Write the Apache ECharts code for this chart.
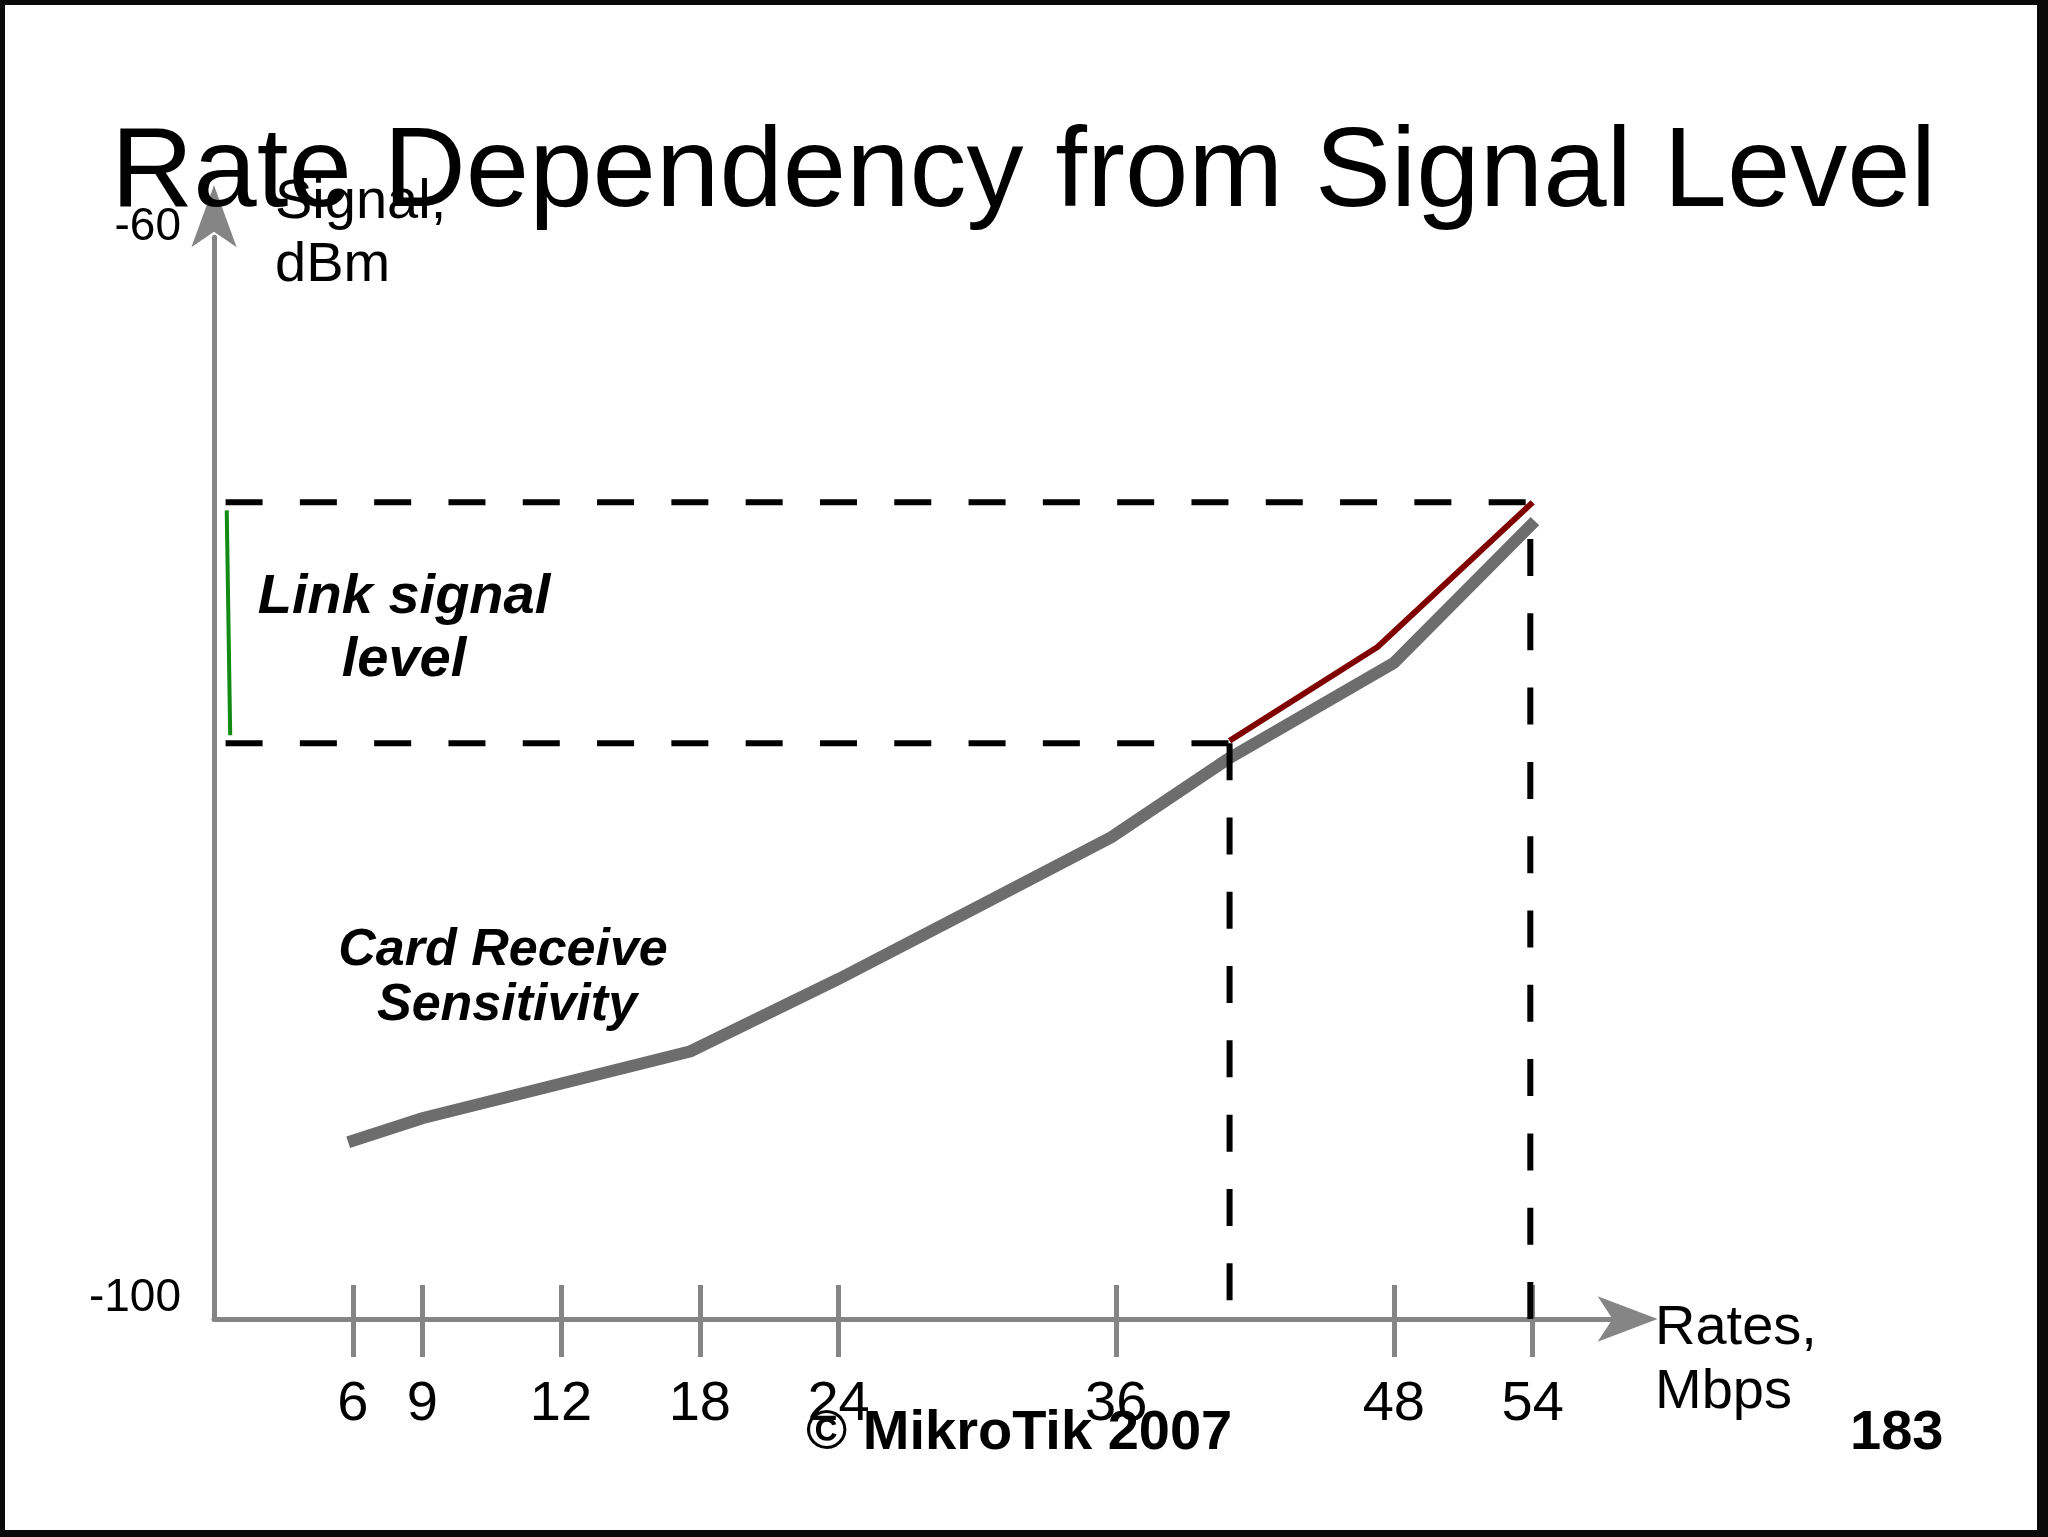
<!DOCTYPE html>
<html>
<head>
<meta charset="utf-8">
<script src="https://cdn.jsdelivr.net/npm/echarts@6/dist/echarts.min.js"></script>
<style>
html,body{margin:0;padding:0;background:#fff;}
#wrap{position:relative;width:2048px;height:1537px;}
#chart{position:absolute;left:0;top:0;width:2048px;height:1537px;}
#frame{position:absolute;left:0;top:0;width:2048px;height:1537px;box-sizing:border-box;border-style:solid;border-color:#0a0a0a;border-width:5px 11px 7px 5px;pointer-events:none;}
</style>
</head>
<body>
<div id="wrap"><div id="chart"></div><div id="frame"></div></div>
<script>
// ---- data ----
const rateLabels = ['6', '9', '12', '18', '24', '36', '48', '54'];       // Mbps tick labels
const ratePos    = [6, 9, 15, 21, 27, 39, 51, 57];                       // where each rate sits on the schematic axis
const yTickLabels = [-100, -60];                                          // dBm
const sensPos  = [5.8, 9.0, 20.6, 27.0, 32.8, 38.8, 43.8, 51.0, 57.1];   // card receive sensitivity curve (axis position)
const sensDbm  = [-93.4, -92.5, -90.0, -87.3, -84.7, -82.0, -79.1, -75.5, -70.2];
const linkPos  = [43.9, 50.3, 57.0];                                      // link signal segment
const linkDbm  = [-78.4, -74.9, -69.5];
const levelHigh = -69.5;          // upper link level (dBm)
const levelLow  = -78.5;          // lower link level (dBm)
const guideStartPos = 0.5;        // dashed guides start near the y axis
const lowRatePos  = 43.9;         // rate position reached at low level
const highRatePos = 56.9;         // rate position reached at high level
const lowGuideBottom  = -99.3;
const highGuideBottom = -100;
const bracketPos = [0.55, 0.7];   // green bracket
const bracketDbm = [-69.8, -78.2];

const FONT = "'Liberation Sans', Arial, Helvetica, sans-serif";
const AXIS_GREY = '#858585';

function pairs(xs, ys) { return xs.map((x, i) => [x, ys[i]]); }

const dashStyle = { color: '#000', width: 6, type: [37, 37.3], cap: 'butt' };

const chart = echarts.init(document.getElementById('chart'), null, { renderer: 'canvas' });

const option = {
  backgroundColor: '#fff',
  animation: false,
  grid: { left: 214, right: 434.4, top: 237.3, bottom: 218, containLabel: false },
  xAxis: [
    {
      type: 'value', min: 0, max: 60.5, position: 'bottom',
      splitLine: { show: false },
      axisLine: { show: true, onZero: false, symbol: ['none', 'arrow'], symbolSize: [34, 60], symbolOffset: [0, 44],
                  lineStyle: { color: AXIS_GREY, width: 5 } },
      axisTick: { show: true, inside: false, length: 38, customValues: ratePos, lineStyle: { color: AXIS_GREY, width: 5 } },
      axisLabel: { show: true, customValues: ratePos, margin: 58, fontSize: 56, color: '#000', fontFamily: FONT,
                   formatter: v => rateLabels[ratePos.indexOf(v)] }
    },
    {
      type: 'value', min: 0, max: 60.5, position: 'bottom',
      splitLine: { show: false },
      axisLine: { show: false, onZero: false },
      axisTick: { show: true, inside: true, length: 34, customValues: ratePos, lineStyle: { color: AXIS_GREY, width: 5 } },
      axisLabel: { show: false }
    }
  ],
  yAxis: {
    type: 'value', min: -100, max: -59.6,
    splitLine: { show: false },
    axisLine: { show: true, onZero: false, symbol: ['none', 'arrow'], symbolSize: [34, 62], symbolOffset: [0, 52],
                lineStyle: { color: AXIS_GREY, width: 5 } },
    axisTick: { show: false },
    axisLabel: { show: true, customValues: yTickLabels, margin: 33, fontSize: 46, lineHeight: 42, color: '#000', fontFamily: FONT,
                 verticalAlign: 'bottom' }
  },
  series: [
    { type: 'line', name: 'sensitivity', data: pairs(sensPos, sensDbm), symbol: 'none', clip: false, z: 2,
      lineStyle: { color: '#6d6d6d', width: 12, cap: 'butt', join: 'miter' } },
    { type: 'line', name: 'guideHigh', data: [[guideStartPos, levelHigh], [highRatePos + 0.1, levelHigh]], symbol: 'none', clip: false, z: 3, lineStyle: dashStyle },
    { type: 'line', name: 'guideLow', data: [[guideStartPos, levelLow], [lowRatePos, levelLow]], symbol: 'none', clip: false, z: 3, lineStyle: dashStyle },
    { type: 'line', name: 'dropLow', data: [[lowRatePos, lowGuideBottom], [lowRatePos, levelLow]], symbol: 'none', clip: false, z: 3, lineStyle: dashStyle },
    { type: 'line', name: 'dropHigh', data: [[highRatePos, highGuideBottom], [highRatePos, levelHigh]], symbol: 'none', clip: false, z: 3, lineStyle: dashStyle },
    { type: 'line', name: 'bracket', data: pairs(bracketPos, bracketDbm), symbol: 'none', clip: false, z: 3,
      lineStyle: { color: '#138a13', width: 4 } },
    { type: 'line', name: 'link', data: pairs(linkPos, linkDbm), symbol: 'none', clip: false, z: 4,
      lineStyle: { color: '#800000', width: 6, cap: 'butt', join: 'miter' } }
  ],
  graphic: [
    { type: 'text', x: 111, y: 175, z: 10, style: { text: 'Rate Dependency from Signal Level', font: '114px ' + FONT, fill: '#000', verticalAlign: 'middle', align: 'left' } },
    { type: 'text', x: 275, y: 203, z: 10, style: { text: 'Signal,', font: '56px ' + FONT, fill: '#000', verticalAlign: 'middle' } },
    { type: 'text', x: 275, y: 266, z: 10, style: { text: 'dBm', font: '56px ' + FONT, fill: '#000', verticalAlign: 'middle' } },
    { type: 'text', x: 1655, y: 1329, z: 10, style: { text: 'Rates,', font: '56px ' + FONT, fill: '#000', verticalAlign: 'middle' } },
    { type: 'text', x: 1655, y: 1393, z: 10, style: { text: 'Mbps', font: '56px ' + FONT, fill: '#000', verticalAlign: 'middle' } },
    { type: 'text', x: 404, y: 598, z: 10, style: { text: 'Link signal', font: 'italic bold 56px ' + FONT, fill: '#000', verticalAlign: 'middle', align: 'center' } },
    { type: 'text', x: 404, y: 661, z: 10, style: { text: 'level', font: 'italic bold 56px ' + FONT, fill: '#000', verticalAlign: 'middle', align: 'center' } },
    { type: 'text', x: 503, y: 951, z: 10, style: { text: 'Card Receive', font: 'italic bold 52px ' + FONT, fill: '#000', verticalAlign: 'middle', align: 'center' } },
    { type: 'text', x: 507, y: 1006, z: 10, style: { text: 'Sensitivity', font: 'italic bold 52px ' + FONT, fill: '#000', verticalAlign: 'middle', align: 'center' } },
    { type: 'text', x: 806, y: 1434, z: 10, style: { text: '\u00A9 MikroTik 2007', font: 'bold 56px ' + FONT, fill: '#000', verticalAlign: 'middle' } },
    { type: 'text', x: 1850, y: 1434, z: 10, style: { text: '183', font: 'bold 56px ' + FONT, fill: '#000', verticalAlign: 'middle' } }
  ]
};
chart.setOption(option);
</script>
</body>
</html>
